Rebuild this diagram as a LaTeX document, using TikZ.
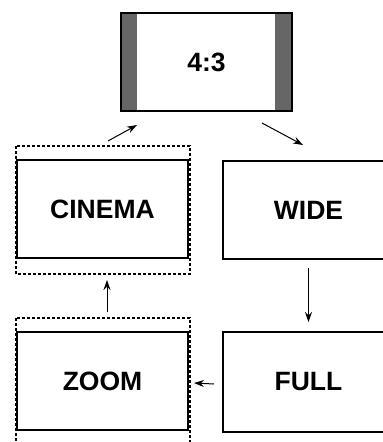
\documentclass[tikz,border=0pt]{standalone}
\usepackage{fontspec}
\setmainfont{Liberation Sans}
\usetikzlibrary{arrows.meta}
\definecolor{bargray}{HTML}{666666}
\begin{document}
\begin{tikzpicture}[
  x=1pt, y=-1pt,
  font=\fontsize{26.5}{31}\selectfont\bfseries,
  box/.style={draw, line width=2pt, align=center, minimum width=171pt, minimum height=98pt, inner sep=0pt},
  dotbox/.style={line width=1.8pt, dash pattern=on 3pt off 2pt},
  arrow/.style={-{Stealth[length=10pt,width=7pt]}, line width=1pt}
]
\clip (0,0) rectangle (383,442);

\node[box] (top) at (206.5,62) {4:3};
\fill[bargray] ([xshift=1pt,yshift=-1pt]top.north west) rectangle ([xshift=17pt,yshift=1pt]top.south west);
\fill[bargray] ([xshift=-18pt,yshift=-1pt]top.north east) rectangle ([xshift=-1pt,yshift=1pt]top.south east);
\node[draw, line width=2pt, minimum width=171pt, minimum height=98pt] at (top) {};

\node[box] (cinema) at (102.5,209) {CINEMA};
\node[box] (wide) at (308.5,210) {WIDE};
\node[box, minimum height=100pt] (full) at (308.5,382) {FULL};
\node[box] (zoom) at (102.5,381) {ZOOM};

\draw[dotbox] ([yshift=13pt]cinema.north west) rectangle ([xshift=1pt,yshift=-15pt]cinema.south east);
\draw[dotbox] ([yshift=13pt]zoom.north west) rectangle ([xshift=1pt,yshift=-20pt]zoom.south east);

\draw[arrow] ([xshift=5.5pt,yshift=18pt]cinema.north) -- ([xshift=17pt,yshift=-13pt]top.south west);
\draw[arrow] ([xshift=-31pt,yshift=-11pt]top.south east) -- ([xshift=-5.5pt,yshift=15pt]wide.north);
\draw[arrow] ([yshift=-8pt]wide.south) -- ([yshift=9pt]full.north);
\draw[arrow] ([xshift=-8pt,yshift=-2pt]full.west) -- ([xshift=5pt,yshift=-2pt]zoom.east);
\draw[arrow] ([xshift=4.5pt,yshift=19pt]zoom.north) -- ([xshift=4.5pt,yshift=-21pt]cinema.south);
\end{tikzpicture}
\end{document}
